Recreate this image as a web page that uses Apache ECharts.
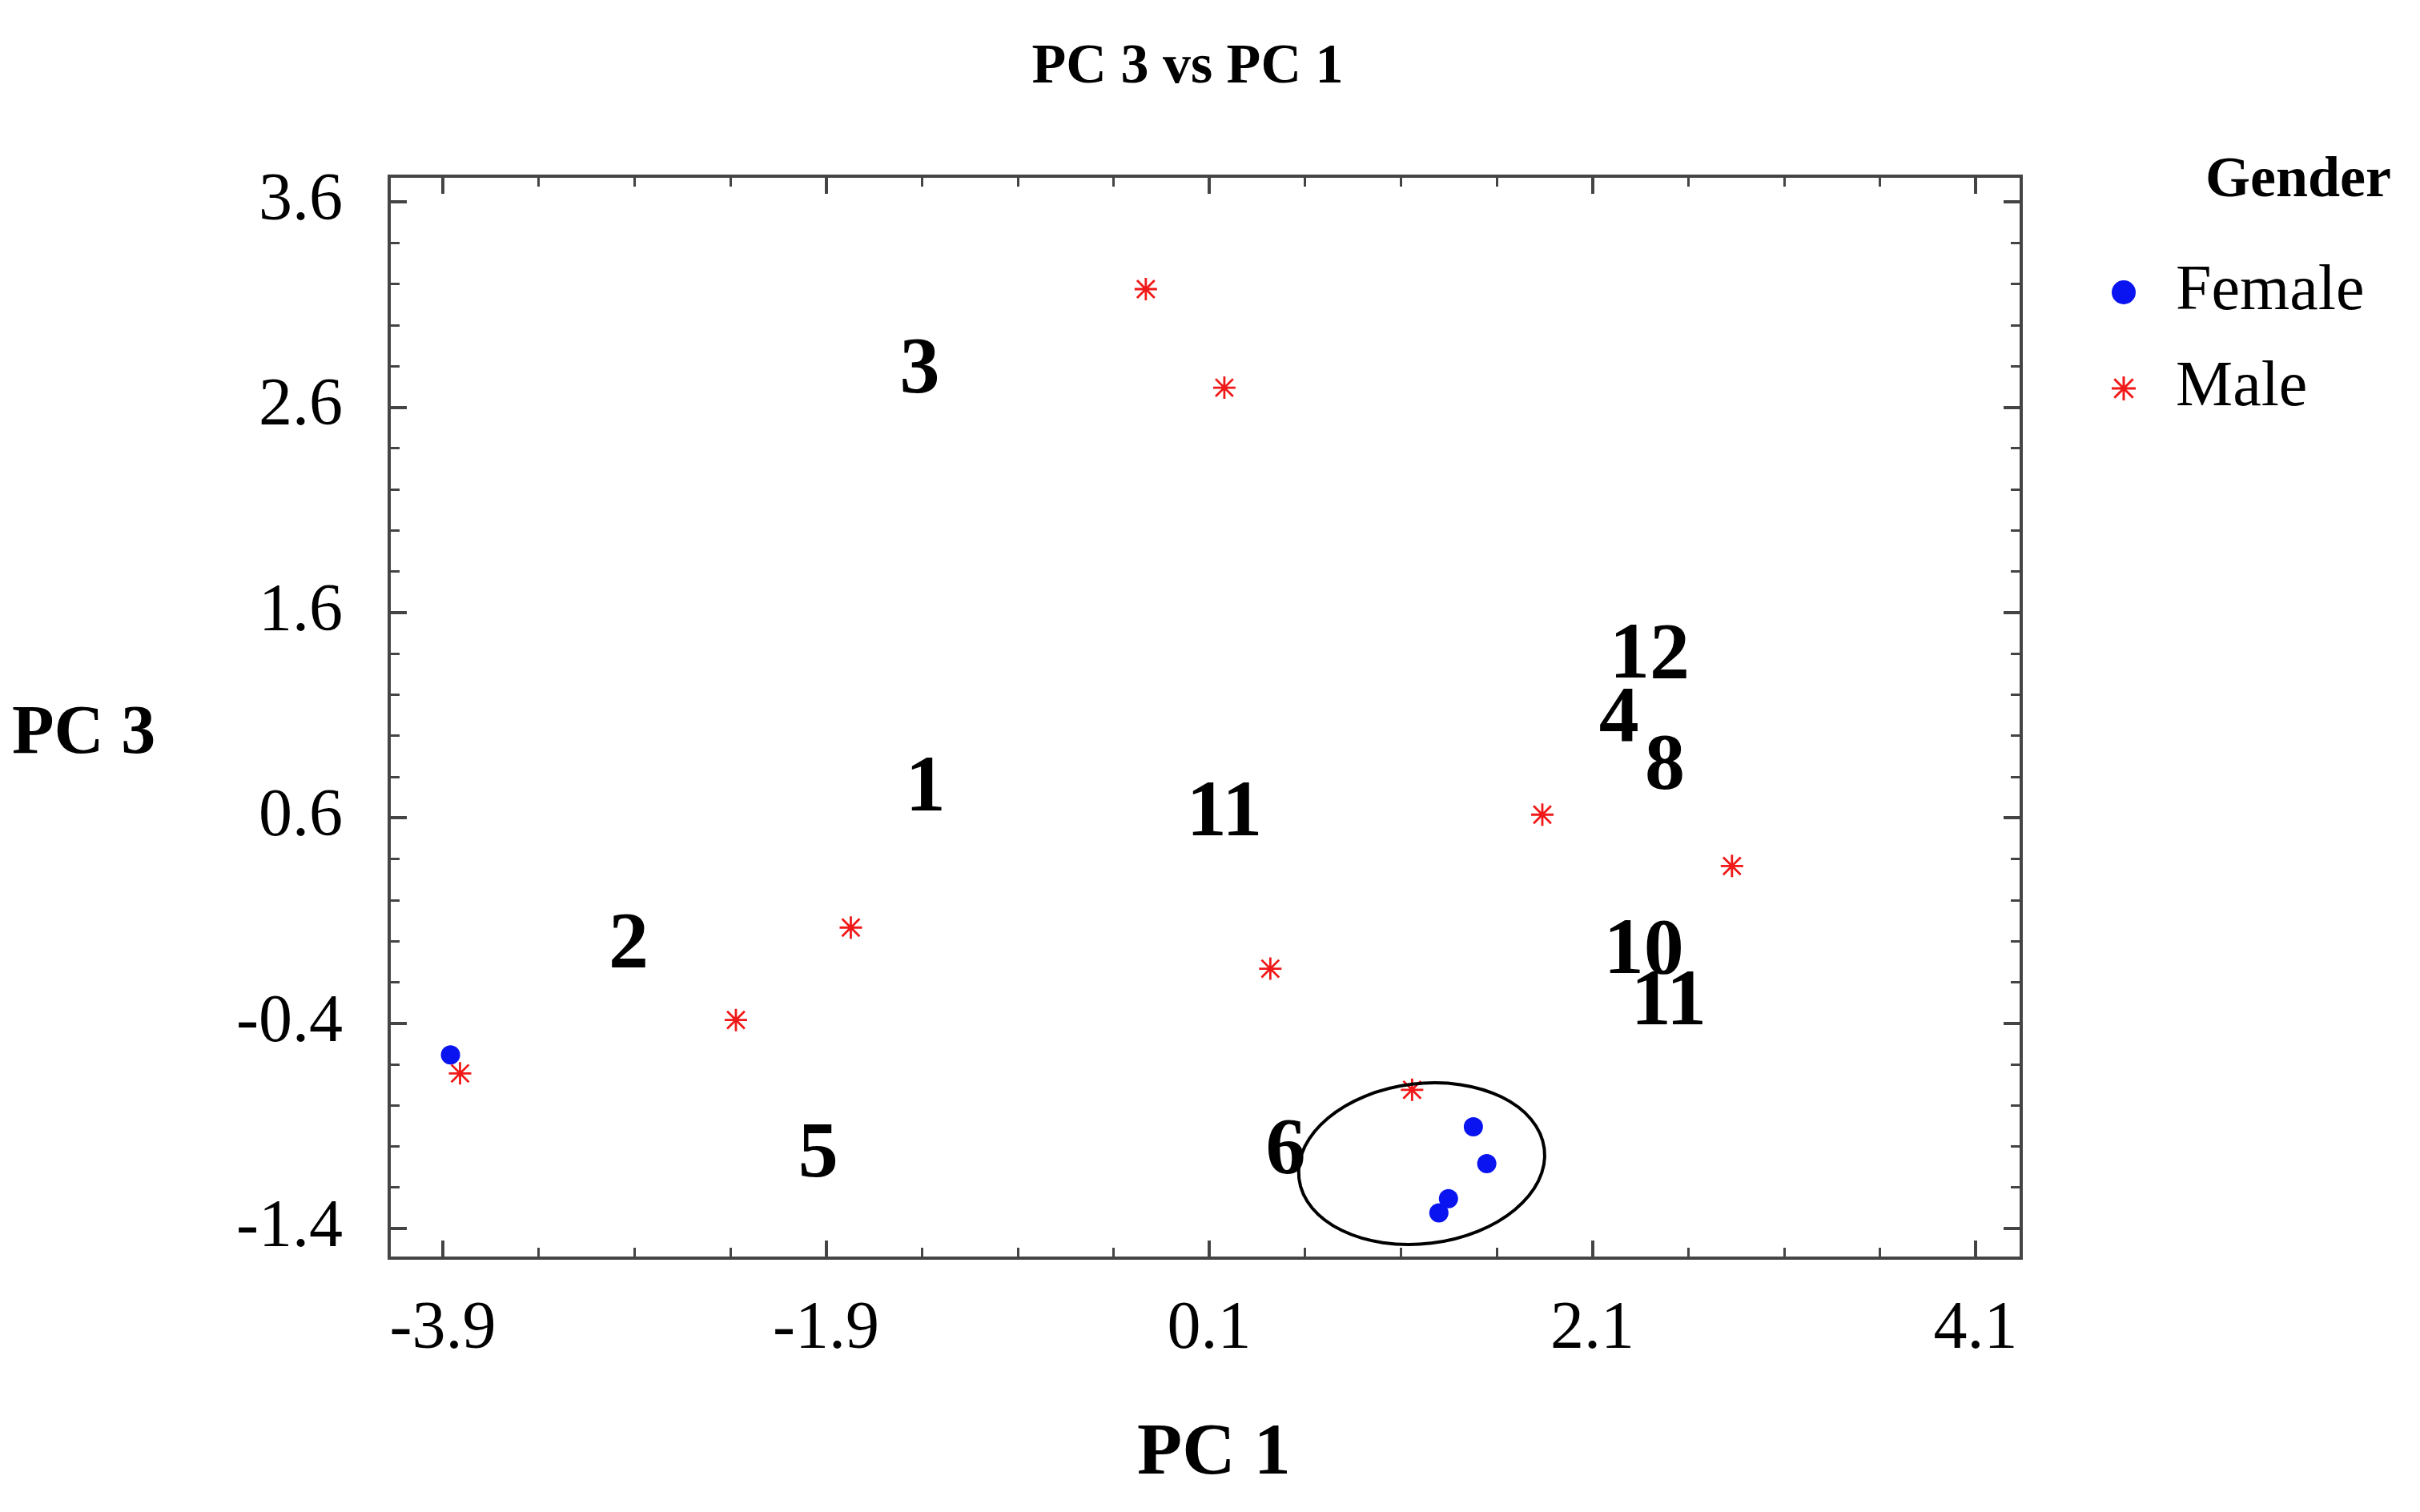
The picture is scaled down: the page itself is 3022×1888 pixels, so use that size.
<!DOCTYPE html>
<html><head><meta charset="utf-8">
<script src="https://cdn.jsdelivr.net/npm/echarts@6/dist/echarts.min.js"></script>
<style>html,body{margin:0;padding:0;background:#fff}#c{width:3022px;height:1888px}</style>
</head><body><div id="c"></div>
<script>
const femaleX = [-3.86, 1.48, 1.55, 1.35, 1.30];
const femaleY = [-0.55, -0.90, -1.08, -1.25, -1.32];
const maleX = [-0.23, 0.18, 1.84, 2.83, -1.77, 0.42, -2.37, -3.81, 1.16];
const maleY = [3.18, 2.70, 0.62, 0.37, 0.07, -0.13, -0.38, -0.64, -0.72];
const labelText = ['3', '1', '11', '2', '5', '6', '12', '4', '8', '10', '11'];
const labelX = [-1.41, -1.38, 0.18, -2.93, -1.94, 0.50, 2.40, 2.24, 2.48, 2.37, 2.50];
const labelY = [2.78, 0.74, 0.62, -0.02, -1.04, -1.02, 1.39, 1.08, 0.85, -0.05, -0.30];
const ellipseCenter = [1.21, -1.08];
const ellipseRadius = [0.645, 0.39];

const serif = 'Liberation Serif';
const star = 'path://M9,0L11,0L11,20L9,20Z M0,9L20,9L20,11L0,11Z M1.5,2.9L2.9,1.5L18.5,17.1L17.1,18.5Z M17.1,1.5L18.5,2.9L2.9,18.5L1.5,17.1Z';
const chart = echarts.init(document.getElementById('c'));
const zip = (a, b) => a.map((v, i) => [v, b[i]]);
const tickLab = {fontFamily: serif, fontSize: 84, color: '#000'};
const tk = {show: true, inside: true, length: 22, lineStyle: {color: '#444', width: 4}};
const mtk = (n) => ({show: true, splitNumber: n, length: 13, lineStyle: {color: '#444', width: 3}});
const noLine = {show: false, onZero: false};
chart.setOption({
  animation: false,
  title: [
    {text: 'PC 3 vs PC 1', left: 1478, top: 45, textAlign: 'center', textStyle: {fontFamily: serif, fontWeight: 'bold', fontSize: 70, color: '#000'}},
    {text: 'Gender', left: 2865, top: 185, textAlign: 'center', textStyle: {fontFamily: serif, fontWeight: 'bold', fontSize: 72, color: '#000'}}
  ],
  legend: {orient: 'vertical', left: 2632, top: 320, itemGap: 40, itemWidth: 30, itemHeight: 30,
    textStyle: {fontFamily: serif, fontSize: 80, color: '#000', padding: [0, 0, 0, 45]},
    data: [{name: 'Female', icon: 'circle'}, {name: 'Male', icon: star}]},
  grid: [
    {left: 486, right: 498, top: 220, bottom: 317, show: true, borderColor: '#444', borderWidth: 4},
    {left: 553, right: 555, top: 252, bottom: 354}
  ],
  xAxis: [
    {gridIndex: 0, type: 'value', min: -4.18, max: 4.34, show: false},
    {gridIndex: 1, type: 'value', position: 'bottom', offset: 37, min: -3.9, max: 4.1, interval: 2,
      axisLine: noLine, splitLine: {show: false}, axisTick: tk, minorTick: mtk(4),
      axisLabel: Object.assign({margin: 48, formatter: v => v.toFixed(1)}, tickLab)},
    {gridIndex: 1, type: 'value', position: 'top', offset: 32, min: -3.9, max: 4.1, interval: 2,
      axisLine: noLine, splitLine: {show: false}, axisLabel: {show: false}, axisTick: tk, minorTick: mtk(4)}
  ],
  yAxis: [
    {gridIndex: 0, type: 'value', min: -1.54, max: 3.73, show: false},
    {gridIndex: 1, type: 'value', position: 'left', offset: 67, min: -1.4, max: 3.6, interval: 1,
      axisLine: noLine, splitLine: {show: false}, axisTick: tk, minorTick: mtk(5),
      axisLabel: Object.assign({margin: 58, formatter: v => v.toFixed(1)}, tickLab)},
    {gridIndex: 1, type: 'value', position: 'right', offset: 57, min: -1.4, max: 3.6, interval: 1,
      axisLine: noLine, splitLine: {show: false}, axisLabel: {show: false}, axisTick: tk, minorTick: mtk(5)}
  ],
  series: [
    {name: 'Female', type: 'scatter', xAxisIndex: 0, yAxisIndex: 0, symbol: 'circle', symbolSize: 24,
      itemStyle: {color: '#0a14f0', opacity: 1}, data: zip(femaleX, femaleY), z: 5},
    {name: 'Male', type: 'scatter', xAxisIndex: 0, yAxisIndex: 0, symbol: star, symbolSize: 28,
      itemStyle: {color: '#f01818', opacity: 1}, data: zip(maleX, maleY), z: 5},
    {name: 'labels', type: 'scatter', xAxisIndex: 0, yAxisIndex: 0, symbolSize: 1, silent: true,
      itemStyle: {opacity: 0},
      data: labelX.map((x, i) => ({value: [x, labelY[i]], name: labelText[i]})),
      label: {show: true, position: 'inside', formatter: p => p.name, fontFamily: serif, fontWeight: 'bold', fontSize: 100, color: '#000', opacity: 1}}
  ],
  graphic: [
    {type: 'text', left: 1420, top: 1770, style: {text: 'PC 1', fontFamily: serif, fontWeight: 'bold', fontSize: 92, fill: '#000'}},
    {type: 'text', left: 15, top: 875, style: {text: 'PC 3', fontFamily: serif, fontWeight: 'bold', fontSize: 86, fill: '#000'}}
  ]
});
const c = chart.convertToPixel({gridIndex: 0}, ellipseCenter);
const e = chart.convertToPixel({gridIndex: 0}, [ellipseCenter[0] + ellipseRadius[0], ellipseCenter[1] + ellipseRadius[1]]);
chart.setOption({graphic: [{}, {}, {type: 'ellipse', x: c[0], y: c[1], rotation: 0.12,
  shape: {cx: 0, cy: 0, rx: Math.abs(e[0] - c[0]), ry: Math.abs(c[1] - e[1])},
  style: {fill: 'none', stroke: '#000', lineWidth: 4}, z: 10}]});
</script></body></html>
